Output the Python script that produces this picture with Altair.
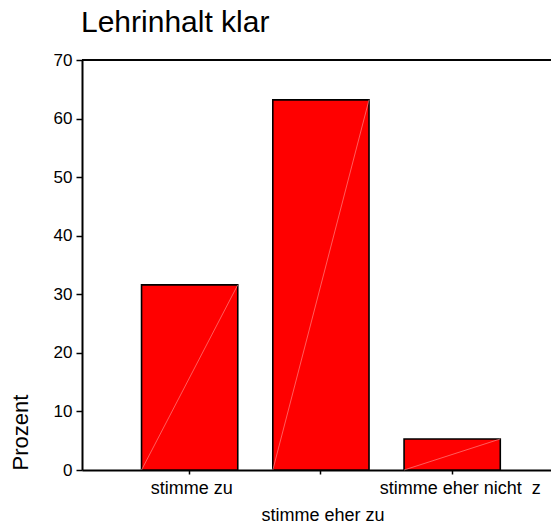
import altair as alt
import pandas as pd

categories = ["stimme zu", "stimme eher zu", "stimme eher nicht \u00a0z"]
percent = [31.6, 63.2, 5.3]
y_ticks = [0, 10, 20, 30, 40, 50, 60, 70]
chart_title = "Lehrinhalt klar"
y_title = "Prozent"

df = pd.DataFrame({"cat": categories, "pct": percent})

FONT = "Liberation Sans"

xscale = alt.Scale(domain=categories, paddingInner=0.267, paddingOuter=0.42, align=0.54)
yscale = alt.Scale(domain=[0, 70], nice=False, zero=True)

x_axis = alt.Axis(
    title=None,
    labelAngle=0,
    labelFont=FONT,
    labelFontSize=18,
    labelColor="black",
    labelOverlap=False,
    labelPadding={"condition": {"test": "datum.value == 'stimme eher zu'", "value": 32}, "value": 5},
    labelOffset={"condition": {"test": "indexof(datum.value, 'nicht') >= 0", "value": 8}, "value": 2},
    domainColor="black",
    domainWidth=2,
    tickColor="black",
    tickSize=4,
    tickWidth=1.5,
    grid=False,
)

y_axis = alt.Axis(
    title=y_title,
    values=y_ticks,
    labelFont=FONT,
    labelFontSize=17,
    labelColor="black",
    labelPadding=4,
    domainColor="black",
    domainWidth=2,
    tickColor="black",
    tickSize=6,
    tickWidth=1.5,
    grid=False,
    titleFont=FONT,
    titleFontSize=22,
    titleFontWeight="normal",
    titleColor="black",
    titleAngle=270,
    titleAlign="left",
    titleBaseline="alphabetic",
    titleX=-55,
    titleY=410,
)

base = alt.Chart(df)

bars = base.mark_bar(color="#ff0000", stroke="black", strokeWidth=1.6).encode(
    x=alt.X("cat:N", scale=xscale, sort=categories, axis=x_axis),
    y=alt.Y("pct:Q", scale=yscale, axis=y_axis),
)

diag = base.transform_calculate(zero="0").mark_rule(
    color="#ff9a9a", strokeWidth=0.6
).encode(
    x=alt.X("cat:N", bandPosition=0, scale=xscale, sort=categories),
    x2=alt.X2("cat", bandPosition=1),
    y=alt.Y("zero:Q", scale=yscale),
    y2=alt.Y2("pct"),
)

top_line = base.mark_rule(color="black", strokeWidth=1.5).encode(
    y=alt.datum(70, scale=yscale)
)

chart = (
    alt.layer(bars, diag, top_line)
    .properties(
        width=469,
        height=410,
        title=alt.TitleParams(
            chart_title,
            anchor="start",
            frame="group",
            font=FONT,
            fontSize=30,
            fontWeight="normal",
            color="black",
            offset=13,
            dx=-1,
        ),
        autosize=alt.AutoSizeParams(type="none"),
        padding={"left": 74, "top": 52, "right": 0, "bottom": 60},
    )
    .configure_view(stroke=None)
    .configure(background="white")
)

chart.save("out.html", embed_options={"renderer": "svg", "actions": False})
